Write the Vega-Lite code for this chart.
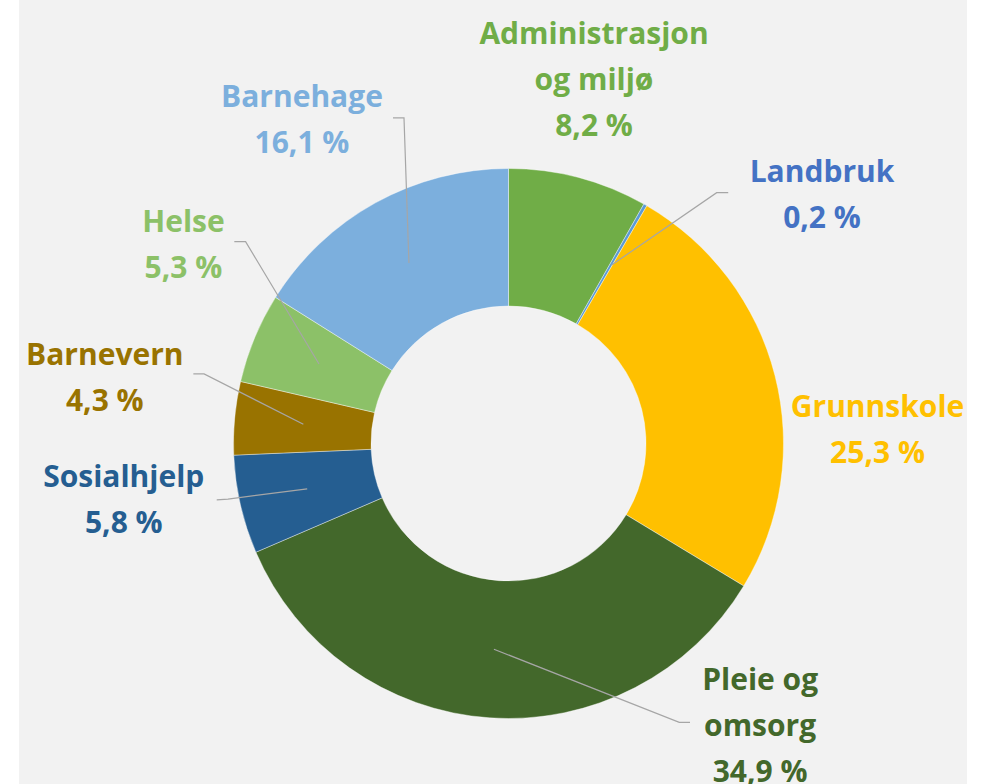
{
  "$schema": "https://vega.github.io/schema/vega-lite/v6.json",
  "width": 948,
  "height": 784,
  "autosize": {"type": "none"},
  "padding": {"left": 19, "right": 22, "top": 0, "bottom": 0},
  "background": "#ffffff",
  "view": {"fill": "#f2f2f2", "stroke": null},
  "datasets": {
    "slices": [
      {"category": "Administrasjon og miljø", "value": 8.2},
      {"category": "Landbruk", "value": 0.2},
      {"category": "Grunnskole", "value": 25.3},
      {"category": "Pleie og omsorg", "value": 34.9},
      {"category": "Sosialhjelp", "value": 5.8},
      {"category": "Barnevern", "value": 4.3},
      {"category": "Helse", "value": 5.3},
      {"category": "Barnehage", "value": 16.1}
    ],
    "labels": [
      {"category": "Administrasjon og miljø", "name": "Administrasjon\nog miljø", "tx": 31.1, "ty": 145.1},
      {"category": "Landbruk", "name": "Landbruk", "tx": 114.0, "ty": 95.1},
      {"category": "Grunnskole", "name": "Grunnskole", "tx": 134.2, "ty": 9.7},
      {"category": "Pleie og omsorg", "name": "Pleie og\nomsorg", "tx": 91.5, "ty": -89.6},
      {"category": "Sosialhjelp", "name": "Sosialhjelp", "tx": -139.9, "ty": -15.7},
      {"category": "Barnevern", "name": "Barnevern", "tx": -146.8, "ty": 28.5},
      {"category": "Helse", "name": "Helse", "tx": -118.2, "ty": 77.0},
      {"category": "Barnehage", "name": "Barnehage", "tx": -75.1, "ty": 122.5}
    ],
    "leaders": [
      {"category": "Barnehage", "step": 1, "lx": -42.0, "ly": 118.4},
      {"category": "Barnehage", "step": 2, "lx": -38.0, "ly": 118.4},
      {"category": "Barnehage", "step": 3, "lx": -36.2, "ly": 65.6},
      {"category": "Helse", "step": 1, "lx": -99.7, "ly": 73.4},
      {"category": "Helse", "step": 2, "lx": -95.6, "ly": 73.4},
      {"category": "Helse", "step": 3, "lx": -68.9, "ly": 28.9},
      {"category": "Barnevern", "step": 1, "lx": -114.6, "ly": 25.3},
      {"category": "Barnevern", "step": 2, "lx": -110.7, "ly": 25.3},
      {"category": "Barnevern", "step": 3, "lx": -74.6, "ly": 7.0},
      {"category": "Sosialhjelp", "step": 1, "lx": -106.1, "ly": -20.5},
      {"category": "Sosialhjelp", "step": 2, "lx": -102.0, "ly": -20.2},
      {"category": "Sosialhjelp", "step": 3, "lx": -73.2, "ly": -16.5},
      {"category": "Landbruk", "step": 1, "lx": 79.9, "ly": 91.2},
      {"category": "Landbruk", "step": 2, "lx": 75.7, "ly": 91.2},
      {"category": "Landbruk", "step": 3, "lx": 37.5, "ly": 64.9},
      {"category": "Pleie og omsorg", "step": 1, "lx": 66.0, "ly": -101.4},
      {"category": "Pleie og omsorg", "step": 2, "lx": 62.1, "ly": -101.4},
      {"category": "Pleie og omsorg", "step": 3, "lx": -5.3, "ly": -74.8}
    ]
  },
  "layer": [
    {
      "data": {"name": "slices"},
      "transform": [{"window": [{"op": "row_number", "as": "idx"}]}],
      "mark": {"type": "arc", "outerRadius": 275, "innerRadius": 137.5, "stroke": "#ffffff", "strokeWidth": 0.4},
      "encoding": {
        "x": {"datum": 0, "type": "quantitative", "scale": {"domain": [-178, 166.73], "nice": false, "zero": false}, "axis": null},
        "y": {"datum": 0, "type": "quantitative", "scale": {"domain": [-123.82, 161.27], "nice": false, "zero": false}, "axis": null},
        "theta": {"field": "value", "type": "quantitative", "stack": true},
        "order": {"field": "idx", "type": "quantitative", "sort": "ascending"},
        "color": {
          "field": "category",
          "type": "nominal",
          "scale": {
            "domain": ["Administrasjon og miljø", "Landbruk", "Grunnskole", "Pleie og omsorg", "Sosialhjelp", "Barnevern", "Helse", "Barnehage"],
            "range": ["#70ad47", "#5b9bd5", "#ffc000", "#43682b", "#255e91", "#997300", "#8cc168", "#7cafdd"]
          },
          "legend": null
        }
      }
    },
    {
      "data": {"name": "leaders"},
      "mark": {"type": "line", "color": "#a6a6a6", "strokeWidth": 1.2},
      "encoding": {
        "x": {"field": "lx", "type": "quantitative", "scale": {"domain": [-178, 166.73], "nice": false, "zero": false}, "axis": null},
        "y": {"field": "ly", "type": "quantitative", "scale": {"domain": [-123.82, 161.27], "nice": false, "zero": false}, "axis": null},
        "detail": {"field": "category", "type": "nominal"},
        "order": {"field": "step", "type": "quantitative"}
      }
    },
    {
      "data": {"name": "labels"},
      "transform": [
        {"lookup": "category", "from": {"data": {"name": "slices"}, "key": "category", "fields": ["value"]}},
        {"calculate": "datum.name + '\\n' + replace(format(datum.value, '.1f'), '.', ',') + ' %'", "as": "label"}
      ],
      "mark": {"type": "text", "font": "Open Sans", "fontWeight": "bold", "fontSize": 30, "align": "center", "baseline": "alphabetic", "lineBreak": "\n", "lineHeight": 46},
      "encoding": {
        "x": {"field": "tx", "type": "quantitative", "scale": {"domain": [-178, 166.73], "nice": false, "zero": false}, "axis": null},
        "y": {"field": "ty", "type": "quantitative", "scale": {"domain": [-123.82, 161.27], "nice": false, "zero": false}, "axis": null},
        "text": {"field": "label", "type": "nominal"},
        "color": {
          "field": "category",
          "type": "nominal",
          "scale": {
            "domain": ["Administrasjon og miljø", "Landbruk", "Grunnskole", "Pleie og omsorg", "Sosialhjelp", "Barnevern", "Helse", "Barnehage"],
            "range": ["#70ad47", "#4472c4", "#ffc000", "#43682b", "#255e91", "#997300", "#8cc168", "#7cafdd"]
          },
          "legend": null
        }
      }
    }
  ],
  "resolve": {"scale": {"color": "independent"}}
}
